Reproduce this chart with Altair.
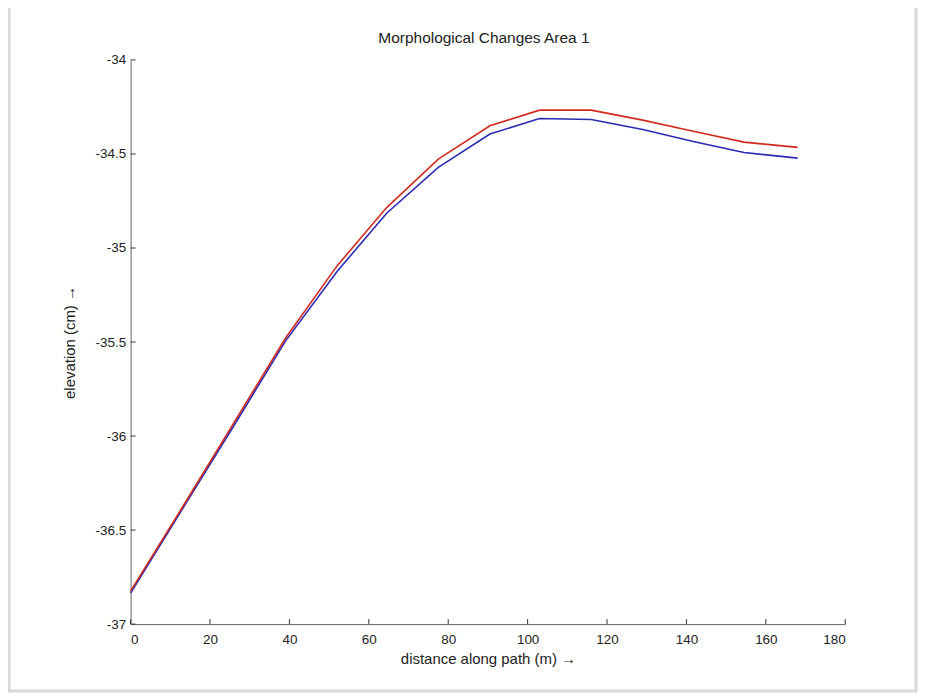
import altair as alt
import pandas as pd

distance = [0, 13, 26, 39, 52, 64.5, 77.5, 90.5, 103, 116, 129, 142, 154.5, 168]
elev_red = [-36.825, -36.38, -35.93, -35.48, -35.095, -34.785, -34.527, -34.35, -34.267, -34.267, -34.32, -34.38, -34.437, -34.465]
elev_blue = [-36.835, -36.39, -35.945, -35.495, -35.125, -34.815, -34.571, -34.394, -34.311, -34.317, -34.37, -34.435, -34.492, -34.522]
x_ticks = [0, 20, 40, 60, 80, 100, 120, 140, 160, 180]
y_ticks = [-37, -36.5, -36, -35.5, -35, -34.5, -34]
title_text = ["Morphological Changes Area 1"]

W, H = 717, 566
FONT = "Liberation Sans"

df = pd.concat([
    pd.DataFrame({"d": distance, "e": elev_blue, "s": "blue"}),
    pd.DataFrame({"d": distance, "e": elev_red, "s": "red"}),
])

xs = alt.Scale(domain=[0, 180], nice=False, zero=False)
ys = alt.Scale(domain=[-37, -34], nice=False, zero=False)

border = alt.Chart(pd.DataFrame({"a": [0]})).mark_rect(
    fill=None, stroke="#d9d9d9", strokeWidth=3
).encode(x=alt.value(-122), x2=alt.value(788), y=alt.value(-55), y2=alt.value(633))

title = alt.Chart(pd.DataFrame({"t": title_text})).mark_text(
    font=FONT, fontSize=15.5, color="#222222", align="center", baseline="middle"
).encode(text="t:N", x=alt.value(W / 2 - 4), y=alt.value(-22))

lines = alt.Chart(df).mark_line(strokeWidth=1.6).encode(
    x=alt.X("d:Q", scale=xs, axis=alt.Axis(
        values=x_ticks, title="distance along path (m) →", ticks=False,
        labelFontSize=13.5, labelPadding=8, titleFontSize=15, titleFontWeight="normal",
        titlePadding=6, domainColor="#666666", labelColor="#222222", titleColor="#222222",
        grid=False, labelFont=FONT, titleFont=FONT)),
    y=alt.Y("e:Q", scale=ys, axis=alt.Axis(
        values=y_ticks, title="elevation (cm) →", ticks=False, labelExpr="'' + datum.value",
        labelFontSize=13.5, labelPadding=5, titleFontSize=15, titleFontWeight="normal",
        titlePadding=18, domainColor="#666666", labelColor="#222222", titleColor="#222222",
        grid=False, labelFont=FONT, titleFont=FONT)),
    color=alt.Color("s:N", scale=alt.Scale(domain=["blue", "red"], range=["#2a2ab4", "#d22a1e"]), legend=None),
    detail="s:N",
    order=alt.Order("d:Q"),
)

xt = alt.Chart(pd.DataFrame({"t": x_ticks})).mark_rule(color="#333333", strokeWidth=1).encode(
    x=alt.X("t:Q", scale=xs), y=alt.value(H - 5), y2=alt.value(H))
yt = alt.Chart(pd.DataFrame({"t": y_ticks})).mark_rule(color="#333333", strokeWidth=1).encode(
    y=alt.Y("t:Q", scale=ys), x=alt.value(0), x2=alt.value(5))

chart = alt.layer(border, title, lines, xt, yt).properties(
    width=W, height=H,
    autosize=alt.AutoSizeParams(type="none"),
    padding={"left": 123, "top": 51, "right": 75, "bottom": 70},
).configure_view(stroke=None).configure_axis(domainWidth=1)

chart.save("out.html", embed_options={"renderer": "svg", "actions": False})
